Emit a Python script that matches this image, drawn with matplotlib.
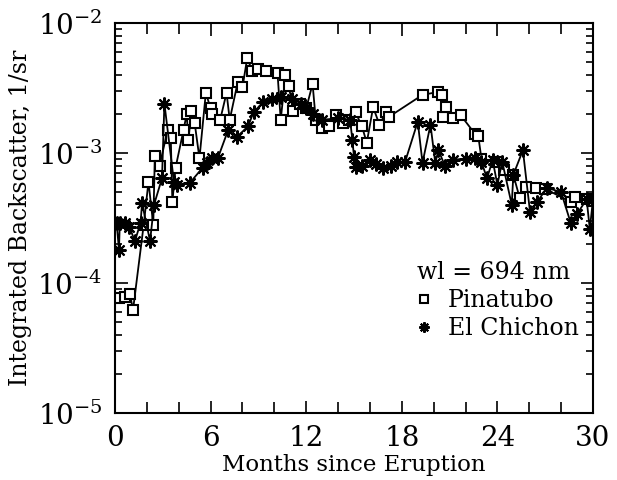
import numpy as np
import matplotlib
matplotlib.use("Agg")
import matplotlib.pyplot as plt
from matplotlib.ticker import MultipleLocator, LogLocator, NullFormatter

plt.rcParams["font.family"] = "DejaVu Serif"
plt.rcParams["mathtext.fontset"] = "dejavuserif"

# Pinatubo (months since eruption, integrated backscatter 1/sr)
pin_month = [0.25, 0.6, 0.94, 1.13, 1.8, 2.1, 2.4, 2.5, 2.8, 3.3, 3.5, 3.6, 3.8,
             4.3, 4.5, 4.6, 4.8, 5.0, 5.3, 5.7, 6.0, 6.1, 6.6, 7.0, 7.2, 7.7,
             8.0, 8.3, 8.6, 9.0, 9.5, 10.2, 10.4, 10.7, 10.9, 11.2, 11.6, 12.0,
             12.4, 12.6, 13.0, 13.4, 13.9, 14.3, 14.7, 15.1, 15.5, 15.8, 16.2,
             16.6, 17.0, 17.2, 19.3, 20.3, 20.5, 20.6, 20.8, 21.2, 21.7, 22.6,
             22.8, 23.0, 24.0, 24.4, 25.0, 25.4, 25.8, 26.4, 27.0, 28.6, 28.9,
             29.6, 30.0]
pin_val = [7.6e-5, 7.8e-5, 8.2e-5, 6.2e-5, 2.8e-4, 6.0e-4, 2.8e-4, 9.5e-4, 8.0e-4,
           1.5e-3, 1.3e-3, 4.2e-4, 7.7e-4, 1.5e-3, 2.0e-3, 1.25e-3, 2.1e-3,
           1.7e-3, 9.1e-4, 2.9e-3, 2.2e-3, 2.0e-3, 1.8e-3, 2.9e-3, 1.8e-3,
           3.5e-3, 3.2e-3, 5.4e-3, 4.3e-3, 4.4e-3, 4.3e-3, 4.1e-3, 1.8e-3,
           4.0e-3, 3.3e-3, 2.1e-3, 2.4e-3, 2.2e-3, 3.4e-3, 1.8e-3, 1.55e-3,
           1.6e-3, 1.95e-3, 1.7e-3, 1.8e-3, 2.05e-3, 1.6e-3, 1.2e-3, 2.25e-3,
           1.65e-3, 2.05e-3, 1.9e-3, 2.8e-3, 2.95e-3, 2.8e-3, 1.9e-3, 2.25e-3,
           1.85e-3, 1.95e-3, 1.4e-3, 1.35e-3, 9.0e-4, 8.5e-4, 7.4e-4, 6.8e-4,
           4.5e-4, 5.5e-4, 5.4e-4, 5.3e-4, 4.2e-4, 4.6e-4, 4.4e-4, 4.3e-4]

# El Chichon
chi_month = [0.1, 0.25, 0.3, 0.6, 0.9, 1.25, 1.6, 1.7, 2.2, 2.45, 2.95, 3.1, 3.7,
             3.9, 4.7, 5.5, 5.8, 6.1, 6.45, 7.1, 7.65, 8.35, 8.7, 9.3, 9.85,
             10.4, 11.1, 11.7, 12.0, 12.4, 13.0, 14.0, 14.75, 14.9, 15.0, 15.1,
             15.5, 16.0, 16.4, 16.8, 17.3, 17.7, 18.2, 19.0, 19.3, 19.8, 20.1,
             20.3, 20.7, 21.2, 22.0, 22.6, 23.0, 23.35, 23.7, 24.0, 24.3, 24.9,
             25.0, 25.6, 26.05, 26.5, 27.1, 28.0, 28.6, 29.0, 29.6, 29.8, 30.0]
chi_val = [2.9e-4, 1.8e-4, 2.9e-4, 2.9e-4, 2.7e-4, 2.1e-4, 2.9e-4, 4.1e-4, 2.1e-4,
           4.0e-4, 6.4e-4, 2.4e-3, 6.0e-4, 5.7e-4, 5.9e-4, 7.7e-4, 8.4e-4,
           9.2e-4, 9.1e-4, 1.5e-3, 1.33e-3, 1.6e-3, 2.07e-3, 2.45e-3, 2.6e-3,
           2.7e-3, 2.6e-3, 2.4e-3, 2.2e-3, 2.0e-3, 1.8e-3, 1.85e-3, 1.8e-3,
           1.26e-3, 9.3e-4, 7.8e-4, 8.0e-4, 8.8e-4, 8.2e-4, 7.7e-4, 8.0e-4,
           8.5e-4, 8.5e-4, 1.74e-3, 8.4e-4, 1.65e-3, 8.4e-4, 1.05e-3, 8.0e-4,
           8.9e-4, 9.0e-4, 9.2e-4, 8.5e-4, 6.4e-4, 8.8e-4, 5.7e-4, 8.6e-4,
           4.0e-4, 6.8e-4, 1.05e-3, 3.5e-4, 4.2e-4, 5.4e-4, 5.0e-4, 2.9e-4,
           3.4e-4, 4.4e-4, 2.6e-4, 4.4e-4]

fig = plt.figure(figsize=(6.17, 4.8), dpi=100)
ax = fig.add_axes([0.1864, 0.1396, 0.7747, 0.8125])

ax.plot(pin_month, pin_val, color="black", lw=1.3, marker="s", ms=7,
        mfc="white", mec="black", mew=1.5, label="Pinatubo")
ax.plot(chi_month, chi_val, color="black", lw=1.3, marker=(8, 2, 0), ms=10,
        mec="black", mew=1.5, label="El Chichon")

ax.set_yscale("log")
ax.set_xlim(0, 30)
ax.set_ylim(1e-5, 1e-2)
ax.set_xticks([0, 6, 12, 18, 24, 30])
ax.xaxis.set_minor_locator(MultipleLocator(2))
ax.yaxis.set_minor_locator(LogLocator(base=10, subs=np.arange(2, 10), numticks=20))
ax.yaxis.set_minor_formatter(NullFormatter())
ax.set_yticks([1e-5, 1e-4, 1e-3, 1e-2])
ax.set_yticklabels([r"$10^{-5}$", r"$10^{-4}$", r"$10^{-3}$", r"$10^{-2}$"])

ax.tick_params(which="both", direction="in", top=True, right=True, width=1.2)
ax.tick_params(which="major", length=9, labelsize=20, pad=9)
ax.tick_params(which="minor", length=5)
ax.tick_params(axis="x", which="minor", length=8)
for s in ax.spines.values():
    s.set_linewidth(1.5)

ax.set_xlabel("Months since Eruption", fontsize=16.5, labelpad=1)
ax.set_ylabel("Integrated Backscatter, 1/sr", fontsize=17, labelpad=4)

leg = ax.legend(loc="lower right", bbox_to_anchor=(1.0, 0.15), frameon=False,
                fontsize=17, title="wl = 694 nm", title_fontsize=17,
                handlelength=0.6, handletextpad=0.7, borderaxespad=0.2,
                labelspacing=0.22, markerscale=0.75)
leg._legend_box.align = "left"
for h in leg.legend_handles:
    h.set_linestyle("none")

fig.savefig("out.png", dpi=100)
